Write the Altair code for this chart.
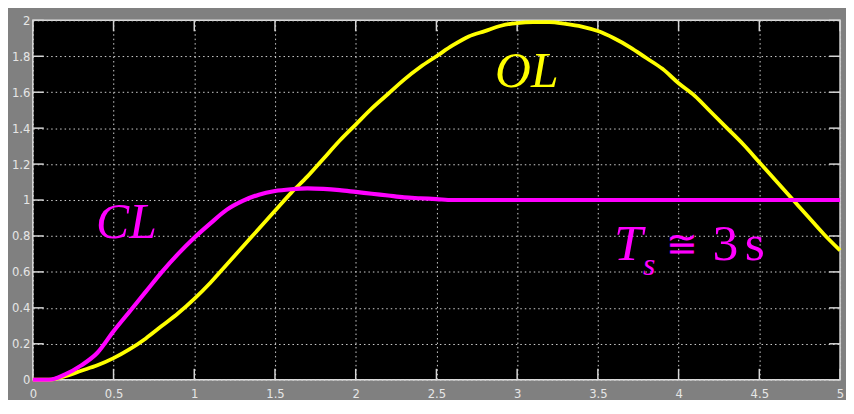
import altair as alt
import pandas as pd

# time samples (s)
t_values = [0.0, 0.1, 0.2, 0.3, 0.4, 0.5, 0.6, 0.7, 0.8, 0.9,
            1.0, 1.1, 1.2, 1.3, 1.4, 1.5, 1.6, 1.7, 1.8, 1.9,
            2.0, 2.1, 2.2, 2.3, 2.4, 2.5, 2.6, 2.7, 2.8, 2.9,
            3.0, 3.1, 3.2, 3.3, 3.4, 3.5, 3.6, 3.7, 3.8, 3.9,
            4.0, 4.1, 4.2, 4.3, 4.4, 4.5, 4.6, 4.7, 4.8, 4.9, 5.0]

# open-loop response (yellow)
ol_values = [0.0, 0.0, 0.02, 0.05, 0.08, 0.12, 0.17, 0.23, 0.30, 0.37,
             0.45, 0.54, 0.64, 0.74, 0.84, 0.94, 1.04, 1.13, 1.23, 1.33,
             1.42, 1.51, 1.59, 1.67, 1.74, 1.80, 1.86, 1.91, 1.94, 1.97,
             1.985, 1.99, 1.99, 1.98, 1.965, 1.94, 1.90, 1.85, 1.79, 1.73,
             1.65, 1.58, 1.49, 1.40, 1.31, 1.21, 1.11, 1.01, 0.91, 0.81, 0.72]

# closed-loop response (magenta)
cl_values = [0.0, 0.0, 0.03, 0.08, 0.15, 0.27, 0.38, 0.49, 0.60, 0.70,
             0.79, 0.87, 0.945, 0.995, 1.03, 1.05, 1.06, 1.065, 1.062, 1.055,
             1.045, 1.035, 1.025, 1.015, 1.01, 1.005, 1.0, 1.0, 1.0, 1.0,
             1.0, 1.0, 1.0, 1.0, 1.0, 1.0, 1.0, 1.0, 1.0, 1.0,
             1.0, 1.0, 1.0, 1.0, 1.0, 1.0, 1.0, 1.0, 1.0, 1.0, 1.0]

x_ticks = [0, 0.5, 1, 1.5, 2, 2.5, 3, 3.5, 4, 4.5, 5]
y_ticks = [0, 0.2, 0.4, 0.6, 0.8, 1, 1.2, 1.4, 1.6, 1.8, 2]

W, H = 813, 362
YELLOW = "#ffff00"
MAGENTA = "#ff00ff"
TICKCOL = "#d6d6d6"

df = pd.DataFrame({"t": t_values, "OL": ol_values, "CL": cl_values})

xs = alt.Scale(domain=[0, 5], nice=False, zero=False)
ys = alt.Scale(domain=[0, 2], nice=False, zero=False)

LABFONT = "Liberation Sans Narrow, DejaVu Sans Condensed, sans-serif"
x_axis = alt.Axis(values=x_ticks, format="~g", title=None, grid=True, domain=False,
                  ticks=False, labelPadding=8, labelFontSize=13, labelColor="#e6e6e6",
                  labelFont=LABFONT, labelFlush=False, labelOverlap=False)
y_axis = alt.Axis(values=y_ticks, format="~g", title=None, grid=True, domain=False,
                  ticks=False, labelPadding=3, labelFontSize=13, labelColor="#e6e6e6",
                  labelFont=LABFONT, labelFlush=False, labelOverlap=False)


def X(field):
    return alt.X(field, scale=xs, axis=x_axis, title=None)


def Y(field):
    return alt.Y(field, scale=ys, axis=y_axis, title=None)


def XD(v):
    return alt.X(datum=v, scale=xs, axis=x_axis, title=None)


def YD(v):
    return alt.Y(datum=v, scale=ys, axis=y_axis, title=None)


base = alt.Chart(df)

ol_line = base.mark_line(color=YELLOW, strokeWidth=3.8, interpolate="monotone").encode(
    x=X("t:Q"), y=Y("OL:Q"))
cl_line = base.mark_line(color=MAGENTA, strokeWidth=4.2, interpolate="monotone").encode(
    x=X("t:Q"), y=Y("CL:Q"))

xt = pd.DataFrame({"t": x_ticks})
yt = pd.DataFrame({"v": y_ticks})
dx = 11 / W * 5   # tick length in x data units
dy = 11 / H * 2   # tick length in y data units
rule_kw = dict(color=TICKCOL, strokeWidth=1.5)
x_ticks_bottom = alt.Chart(xt).mark_rule(**rule_kw).encode(
    x=X("t:Q"), y=YD(0), y2=alt.Y2(datum=dy))
x_ticks_top = alt.Chart(xt).mark_rule(**rule_kw).encode(
    x=X("t:Q"), y=YD(2 - dy), y2=alt.Y2(datum=2))
y_ticks_left = alt.Chart(yt).mark_rule(**rule_kw).encode(
    y=Y("v:Q"), x=XD(0), x2=alt.X2(datum=dx))
y_ticks_right = alt.Chart(yt).mark_rule(**rule_kw).encode(
    y=Y("v:Q"), x=XD(5 - dx), x2=alt.X2(datum=5))

SERIF = "Liberation Serif, DejaVu Serif, serif"


def label(text, t, v, size, color, italic=True, align="left"):
    d = pd.DataFrame({"text": [text], "t": [t], "v": [v]})
    kw = dict(font=SERIF, fontSize=size, color=color, align=align, baseline="alphabetic")
    if italic:
        kw["fontStyle"] = "italic"
    return alt.Chart(d).mark_text(**kw).encode(
        x=X("t:Q"), y=Y("v:Q"), text="text:N")


texts = [
    label("OL", 3.06, 1.63, 50, YELLOW, align="center"),
    label("CL", 0.58, 0.79, 50, MAGENTA, align="center"),
    label("T", 3.60, 0.665, 52, MAGENTA),
    label("s", 3.78, 0.585, 32, MAGENTA),
    label("≅", 3.92, 0.685, 38, MAGENTA, italic=False),
    label("3", 4.21, 0.665, 52, MAGENTA, italic=False),
    label("s", 4.41, 0.665, 52, MAGENTA, italic=False),
]

chart = alt.layer(
    x_ticks_bottom, x_ticks_top, y_ticks_left, y_ticks_right,
    ol_line, cl_line, *texts
).properties(
    width=W, height=H,
    background="#808080",
    padding={"left": 25, "top": 11, "right": 6, "bottom": 19},
    autosize=alt.AutoSizeParams(type="none"),
).configure_view(
    fill="#000000", stroke="#dcdcdc", strokeWidth=1.5
).configure_axis(
    gridColor="#d0d0d0", gridDash=[1.5, 3], gridWidth=1, gridOpacity=1
)

chart.save("out.html", embed_options={"renderer": "svg", "actions": False})
